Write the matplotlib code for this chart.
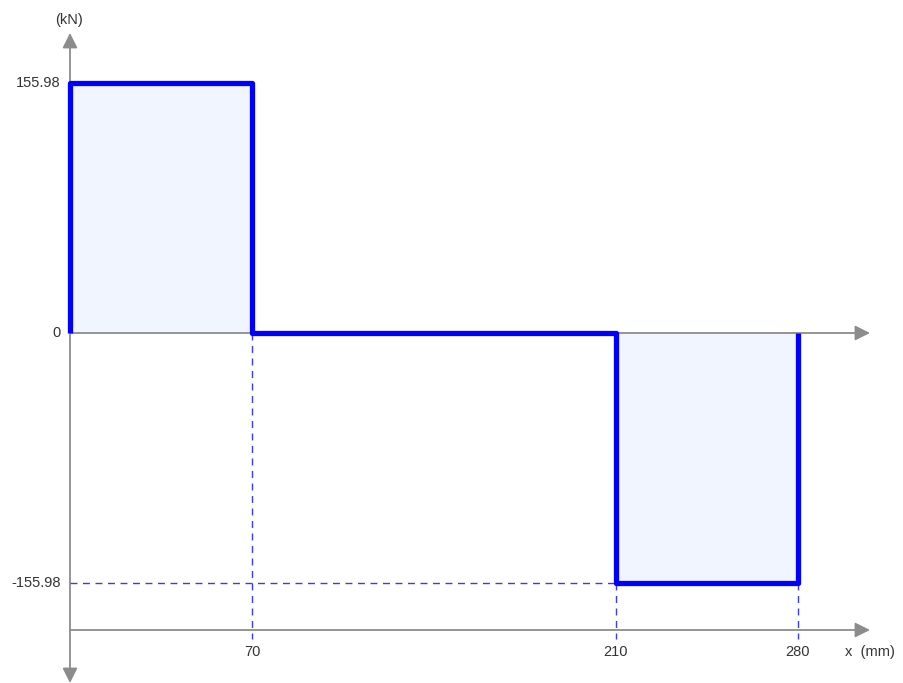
import matplotlib
matplotlib.use("Agg")
import matplotlib.pyplot as plt

# Shear force diagram data
x_pts = [0, 0, 70, 70, 210, 210, 280, 280]
v_pts = [0, 155.98, 155.98, 0, 0, -155.98, -155.98, 0]
x_ticks = [70, 210, 280]
x_tick_labels = ["70", "210", "280"]
y_ticks = [155.98, 0, -155.98]
y_tick_labels = ["155.98", "0", "-155.98"]

W, H = 904, 683
fig = plt.figure(figsize=(W / 100, H / 100), dpi=100)
ax = fig.add_axes([0, 0, 1, 1])
ax.set_axis_off()

# pixel frame: origin at (70, 333), 2.6 px per mm, 250 px per 155.98 kN
ox, oy = 70, 333
sx = 2.6
sy = 250 / 155.98
ax.set_xlim(-ox / sx, (W - ox) / sx)
ax.set_ylim(-(H - oy) / sy, oy / sy)

def px(vx):
    return vx / sx

def py(vy):
    return vy / sy

gray = "#8c8c8c"
txt = "#333333"
blue = "#0000ff"
dash_blue = "#3a3aff"
fs = 10.5

# fill areas
ax.fill_between(x_pts, v_pts, 0, color="#f0f5ff", zorder=1, linewidth=0)

# axes lines with arrows
y_bottom = -py(297)  # lower reference axis
arrow_kw = dict(arrowstyle="-|>,head_length=0.9,head_width=0.45", color=gray, lw=1.3,
                shrinkA=0, shrinkB=0)
ax.annotate("", xy=(0, py(300)), xytext=(0, 0), arrowprops=arrow_kw, zorder=2)
ax.annotate("", xy=(0, -py(350)), xytext=(0, 0), arrowprops=arrow_kw, zorder=2)
ax.annotate("", xy=(px(800), 0), xytext=(0, 0), arrowprops=arrow_kw, zorder=2)
ax.annotate("", xy=(px(800), y_bottom), xytext=(0, y_bottom), arrowprops=arrow_kw, zorder=2)

# dashed guide lines
dash = dict(color=dash_blue, lw=1.0, linestyle=(0, (5, 4)), zorder=2)
ax.plot([70, 70], [0, y_bottom - py(9)], **dash)
for xv in (210, 280):
    ax.plot([xv, xv], [-155.98, y_bottom - py(9)], **dash)
ax.plot([0, 210], [-155.98, -155.98], **dash)

# shear line
ax.plot(x_pts, v_pts, color=blue, lw=3.8, solid_joinstyle="round",
        solid_capstyle="butt", zorder=3)

# tick labels
for yv, lab in zip(y_ticks, y_tick_labels):
    ax.text(-px(9), yv, lab, ha="right", va="center", fontsize=fs, color=txt,
            family="Liberation Sans")
for xv, lab in zip(x_ticks, x_tick_labels):
    ax.text(xv, y_bottom - py(22), lab, ha="center", va="center", fontsize=fs,
            color=txt, family="Liberation Sans")

ax.text(px(775), y_bottom - py(22), "x  (mm)", ha="left", va="center", fontsize=fs,
        color=txt, family="Liberation Sans")
ax.text(-px(1), py(313), "(kN)", ha="center", va="center", fontsize=fs,
        color=txt, family="Liberation Sans")

fig.savefig("out.png", dpi=100)
